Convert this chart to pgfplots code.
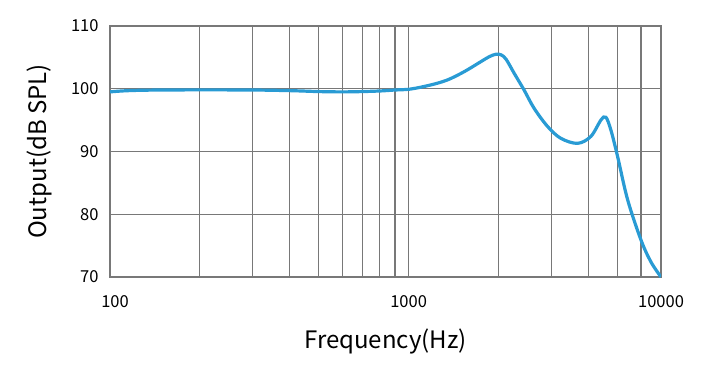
\documentclass[border=0pt]{standalone}
\usepackage{pgfplots}
\pgfplotsset{compat=1.18}
\usepackage{fontspec}
\setmainfont{Noto Sans CJK SC}
\usetikzlibrary{calc}
\definecolor{curve}{RGB}{41,155,212}
\definecolor{gridc}{RGB}{120,120,120}
\begin{document}
\begin{tikzpicture}
\begin{axis}[
  scale only axis,
  width=551bp, height=251bp,
  xmode=log,
  xmin=100, xmax=7000,
  ymin=70, ymax=110,
  xtick={100,200,300,400,500,600,700,800,900,1000,2000,3000,4000,5000,6000,7000},
  xticklabels={\hspace*{10bp}100,,,,,,,,,1000,,,,,,10000},
  minor xtick={},
  ytick={70,80,90,100,110},
  xmajorgrids, ymajorgrids,
  major grid style={gridc, line width=1.1bp},
  axis line style={gridc, line width=1.1bp},
  tick style={draw=none},
  major tick length=0pt, minor tick length=0pt,
  tick label style={font=\fontsize{16.5bp}{18bp}\selectfont, text=black},
  /pgf/number format/assume math mode=true,
  xticklabel style={yshift=-15bp},
  yticklabel style={xshift=-8bp},
  xlabel={Frequency(Hz)},
  ylabel={Output(dB SPL)},
  label style={font=\fontsize{24bp}{27bp}\selectfont, text=black},
  xlabel style={yshift=-14bp},
  ylabel style={yshift=12bp},
]
\addplot[curve, line width=3.2bp, smooth, tension=0.55] coordinates {
(100,99.5) (110,99.65) (125,99.75) (150,99.8) (200,99.82) (300,99.8) (400,99.7)
(500,99.55) (600,99.5) (700,99.55) (805,99.65) (900,99.8) (1015,99.95)
(1184,100.6) (1348,101.4) (1532,102.7) (1743,104.3) (1860,105.1) (1960,105.5)
(2040,105.4) (2120,104.7) (2254,102.5) (2435,99.8) (2630,96.9) (2917,94.0) (3233,92.1)
(3678,91.3) (4075,92.4) (4403,95.0) (4576,95.45) (4757,93.4) (5008,89.2)
(5412,82.3) (5998,75.9) (6478,72.4) (7000,70)
};
\end{axis}
\pgfresetboundingbox
\path ($(current axis.south west)+(-110bp,-91bp)$) rectangle ($(current axis.north east)+(41bp,26bp)$);
\end{tikzpicture}
\end{document}
